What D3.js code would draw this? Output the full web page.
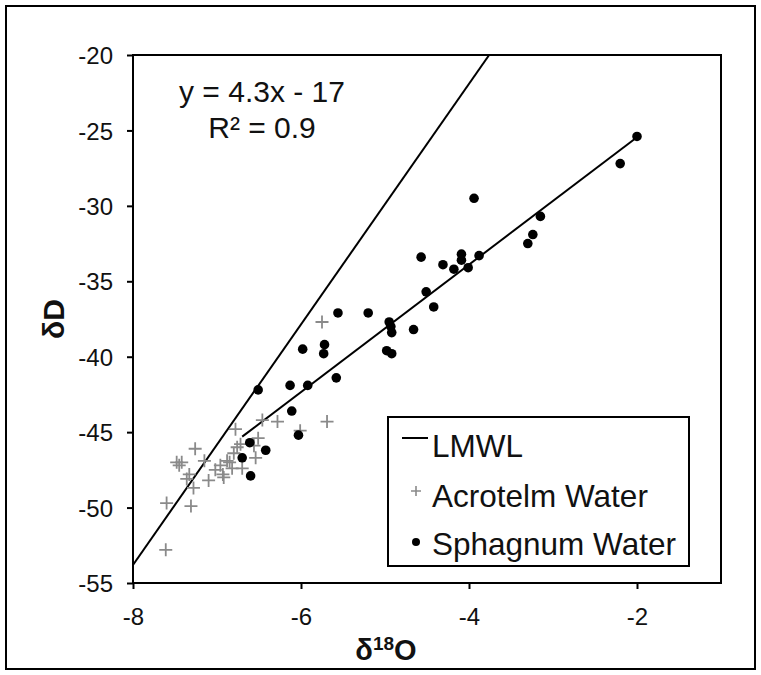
<!DOCTYPE html>
<html>
<head>
<meta charset="utf-8">
<script src="https://cdn.jsdelivr.net/npm/d3@7"></script>
<style>
  html, body { margin: 0; padding: 0; background: #fff; }
  svg { display: block; font-family: "Liberation Sans", Arial, Helvetica, sans-serif; }
</style>
</head>
<body>
<svg id="chart" width="761" height="675"></svg>
<script>
// ---- data ----
const xTicks = [-8, -6, -4, -2];
const yTicks = [-20, -25, -30, -35, -40, -45, -50, -55];

const sphagnumX = [-2.0, -2.2, -3.94, -3.15, -3.24, -3.30, -4.57, -4.09, -4.09, -3.88, -4.31, -4.18, -4.01,
  -4.51, -4.42, -5.20, -5.56, -4.95, -4.93, -4.92, -4.66, -5.72, -5.73, -5.98, -4.98, -4.92, -5.58,
  -6.51, -6.13, -5.92, -6.11, -6.03, -6.61, -6.42, -6.70, -6.60];
const sphagnumY = [-25.4, -27.2, -29.5, -30.7, -31.9, -32.5, -33.4, -33.2, -33.6, -33.3, -33.9, -34.2, -34.1,
  -35.7, -36.7, -37.1, -37.1, -37.7, -38.0, -38.4, -38.2, -39.2, -39.8, -39.5, -39.6, -39.8, -41.4,
  -42.2, -41.9, -41.9, -43.6, -45.2, -45.7, -46.2, -46.7, -47.9];

const acrotelmX = [-5.75, -5.69, -6.01, -6.28, -6.46, -6.78, -6.51, -7.26, -7.48, -7.42, -7.45, -7.15,
  -6.96, -6.88, -6.80, -6.76, -6.72, -6.54, -6.70, -6.82, -6.93, -7.10, -7.36, -7.33, -7.28, -7.60,
  -7.31, -7.61, -6.92, -6.56, -6.85, -7.02];
const acrotelmY = [-37.7, -44.3, -44.9, -44.3, -44.2, -44.8, -45.4, -46.1, -47.0, -47.0, -47.2, -46.9,
  -47.2, -46.9, -46.4, -46.0, -45.8, -46.7, -47.4, -47.4, -47.8, -48.2, -48.1, -47.8, -48.7, -49.7,
  -49.9, -52.8, -48.0, -45.9, -47.0, -47.5];

// LMWL (local meteoric water line) end points
const lmwlX = [-8, -3.76];
const lmwlY = [-53.8, -20];
// Sphagnum regression line end points (y = 4.3x - 17)
const trendX = [-6.7, -2.0];
const trendY = [-45.3, -25.45];

const equationLines = ["y = 4.3x - 17", "R² = 0.9"];
const legendLabels = ["LMWL", "Acrotelm Water", "Sphagnum Water"];

// ---- layout ----
const svg = d3.select("#chart");
const plot = { left: 133, right: 721, top: 55, bottom: 583 };

const x = d3.scaleLinear().domain([-8, -1]).range([plot.left, plot.right]);
const y = d3.scaleLinear().domain([-55, -20]).range([plot.bottom, plot.top]);

// outer frame
svg.append("rect").attr("x", 6).attr("y", 6).attr("width", 749).attr("height", 663)
  .attr("fill", "none").attr("stroke", "#000").attr("stroke-width", 2);

// axes
const fmt = d => String(d);
const gx = svg.append("g").attr("transform", `translate(0,${plot.bottom})`)
  .call(d3.axisBottom(x).tickValues(xTicks).tickSize(6).tickPadding(14).tickFormat(fmt));
const gy = svg.append("g").attr("transform", `translate(${plot.left},0)`)
  .call(d3.axisLeft(y).tickValues(yTicks).tickSize(6).tickPadding(14).tickFormat(fmt));
[gx, gy].forEach(g => {
  g.select(".domain").remove();
  g.selectAll(".tick line").attr("stroke", "#000").attr("stroke-width", 2);
  g.selectAll(".tick text").attr("font-size", 24).attr("fill", "#111")
    .attr("font-family", '"Liberation Sans", Arial, sans-serif');
});
gx.selectAll(".tick text").attr("dy", "0.9em");
gy.selectAll(".tick text").attr("dy", "0.36em");

// clip for lines
svg.append("clipPath").attr("id", "clip").append("rect")
  .attr("x", plot.left).attr("y", plot.top)
  .attr("width", plot.right - plot.left).attr("height", plot.bottom - plot.top);

const line = d3.line().x(d => x(d[0])).y(d => y(d[1]));
svg.append("path").datum(d3.zip(lmwlX, lmwlY)).attr("d", line)
  .attr("clip-path", "url(#clip)").attr("fill", "none").attr("stroke", "#000").attr("stroke-width", 2);
svg.append("path").datum(d3.zip(trendX, trendY)).attr("d", line)
  .attr("fill", "none").attr("stroke", "#000").attr("stroke-width", 2);

// acrotelm crosses
const cs = 6.5;
const crosses = svg.append("g").attr("stroke", "#8a8a8a").attr("stroke-width", 1.8);
d3.zip(acrotelmX, acrotelmY).forEach(d => {
  const cx = x(d[0]), cy = y(d[1]);
  crosses.append("path").attr("d", `M${cx - cs},${cy}H${cx + cs}M${cx},${cy - cs}V${cy + cs}`);
});

// sphagnum dots
svg.append("g").selectAll("circle").data(d3.zip(sphagnumX, sphagnumY)).join("circle")
  .attr("cx", d => x(d[0])).attr("cy", d => y(d[1])).attr("r", 4.8).attr("fill", "#000");

// plot frame
svg.append("rect").attr("x", plot.left).attr("y", plot.top)
  .attr("width", plot.right - plot.left).attr("height", plot.bottom - plot.top)
  .attr("fill", "none").attr("stroke", "#000").attr("stroke-width", 2);

// equation text
svg.append("text").attr("x", 262).attr("y", 102).attr("text-anchor", "middle")
  .attr("font-size", 30).attr("fill", "#111").text(equationLines[0]);
svg.append("text").attr("x", 262).attr("y", 138).attr("text-anchor", "middle")
  .attr("font-size", 30).attr("fill", "#111").text(equationLines[1]);

// axis titles
svg.append("text").attr("transform", "translate(64,319) rotate(-90)")
  .attr("text-anchor", "middle").attr("font-size", 30).attr("font-weight", "bold")
  .attr("fill", "#111").text("δD");
const xt = svg.append("text").attr("x", 386).attr("y", 660).attr("text-anchor", "middle")
  .attr("font-size", 29).attr("font-weight", "bold").attr("fill", "#111");
xt.append("tspan").text("δ");
xt.append("tspan").attr("font-size", 19).attr("dy", -10).text("18");
xt.append("tspan").attr("dy", 10).text("O");

// legend
const lg = svg.append("g");
lg.append("rect").attr("x", 388).attr("y", 417).attr("width", 301).attr("height", 149)
  .attr("fill", "#fff").attr("stroke", "#000").attr("stroke-width", 2);
lg.append("line").attr("x1", 402).attr("x2", 428).attr("y1", 438).attr("y2", 438)
  .attr("stroke", "#000").attr("stroke-width", 2);
lg.append("path").attr("d", `M${416 - 5},491H${416 + 5}M416,${491 - 5}V${491 + 5}`)
  .attr("stroke", "#8a8a8a").attr("stroke-width", 1.6);
lg.append("circle").attr("cx", 416).attr("cy", 542).attr("r", 4).attr("fill", "#000");
const legY = [457, 507, 555];
legendLabels.forEach((t, i) => {
  lg.append("text").attr("x", 432).attr("y", legY[i]).attr("font-size", 31.5)
    .attr("fill", "#111").text(t);
});
</script>
</body>
</html>
